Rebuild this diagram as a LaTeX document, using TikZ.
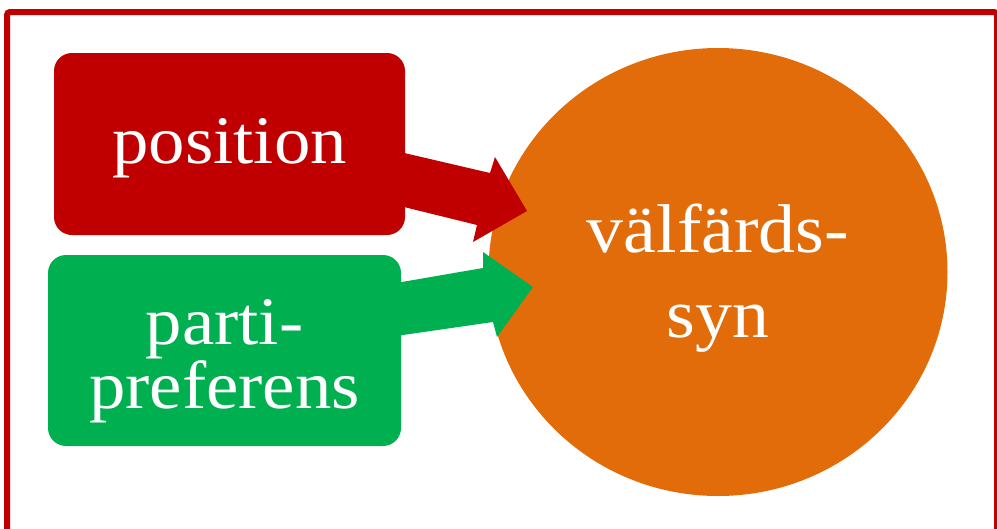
\documentclass[tikz,border=0pt]{standalone}
\usepackage{fontspec}
\setmainfont[FakeStretch=1.07]{Liberation Serif}
\definecolor{cred}{HTML}{C00000}
\definecolor{cgreen}{HTML}{00B050}
\definecolor{corange}{HTML}{E36C0A}
\begin{document}
\begin{tikzpicture}[x=1pt,y=-1pt,
  boxtxt/.style={text=white,align=center,inner sep=0pt}]
\useasboundingbox (0,0) rectangle (997,528);
\fill[white] (0,0) rectangle (997,528);
% frame
\draw[cred,line width=6pt,rounded corners=3pt] (7,540) -- (7,12) -- (997,12) -- (997,540);
% boxes
\fill[cred,rounded corners=18pt] (54,53) rectangle (405,235);
\fill[cgreen,rounded corners=18pt] (48,255) rectangle (401,446);
% circle
\fill[corange] (718,272) ellipse [x radius=229.5, y radius=224];
% arrows
\fill[cred] (400,152) -- (490,173) -- (495,157) -- (527,211) -- (473,242) -- (477,225) -- (400,206) -- cycle;
\fill[cgreen] (396,283) -- (483,268) -- (483,252) -- (533,287) -- (497,337) -- (493,322) -- (396,336) -- cycle;
% texts
\node[boxtxt,anchor=base,font=\fontsize{68}{80}\selectfont] (pos) at (229.5,163) {position};
\node[boxtxt,anchor=base,font=\fontsize{68}{60}\selectfont] (par) at (224.5,408) {parti-\\preferens};
\node[boxtxt,anchor=base,font=\fontsize{69}{85}\selectfont] (val) at (718,337) {välfärds-\\syn};
\end{tikzpicture}
\end{document}
